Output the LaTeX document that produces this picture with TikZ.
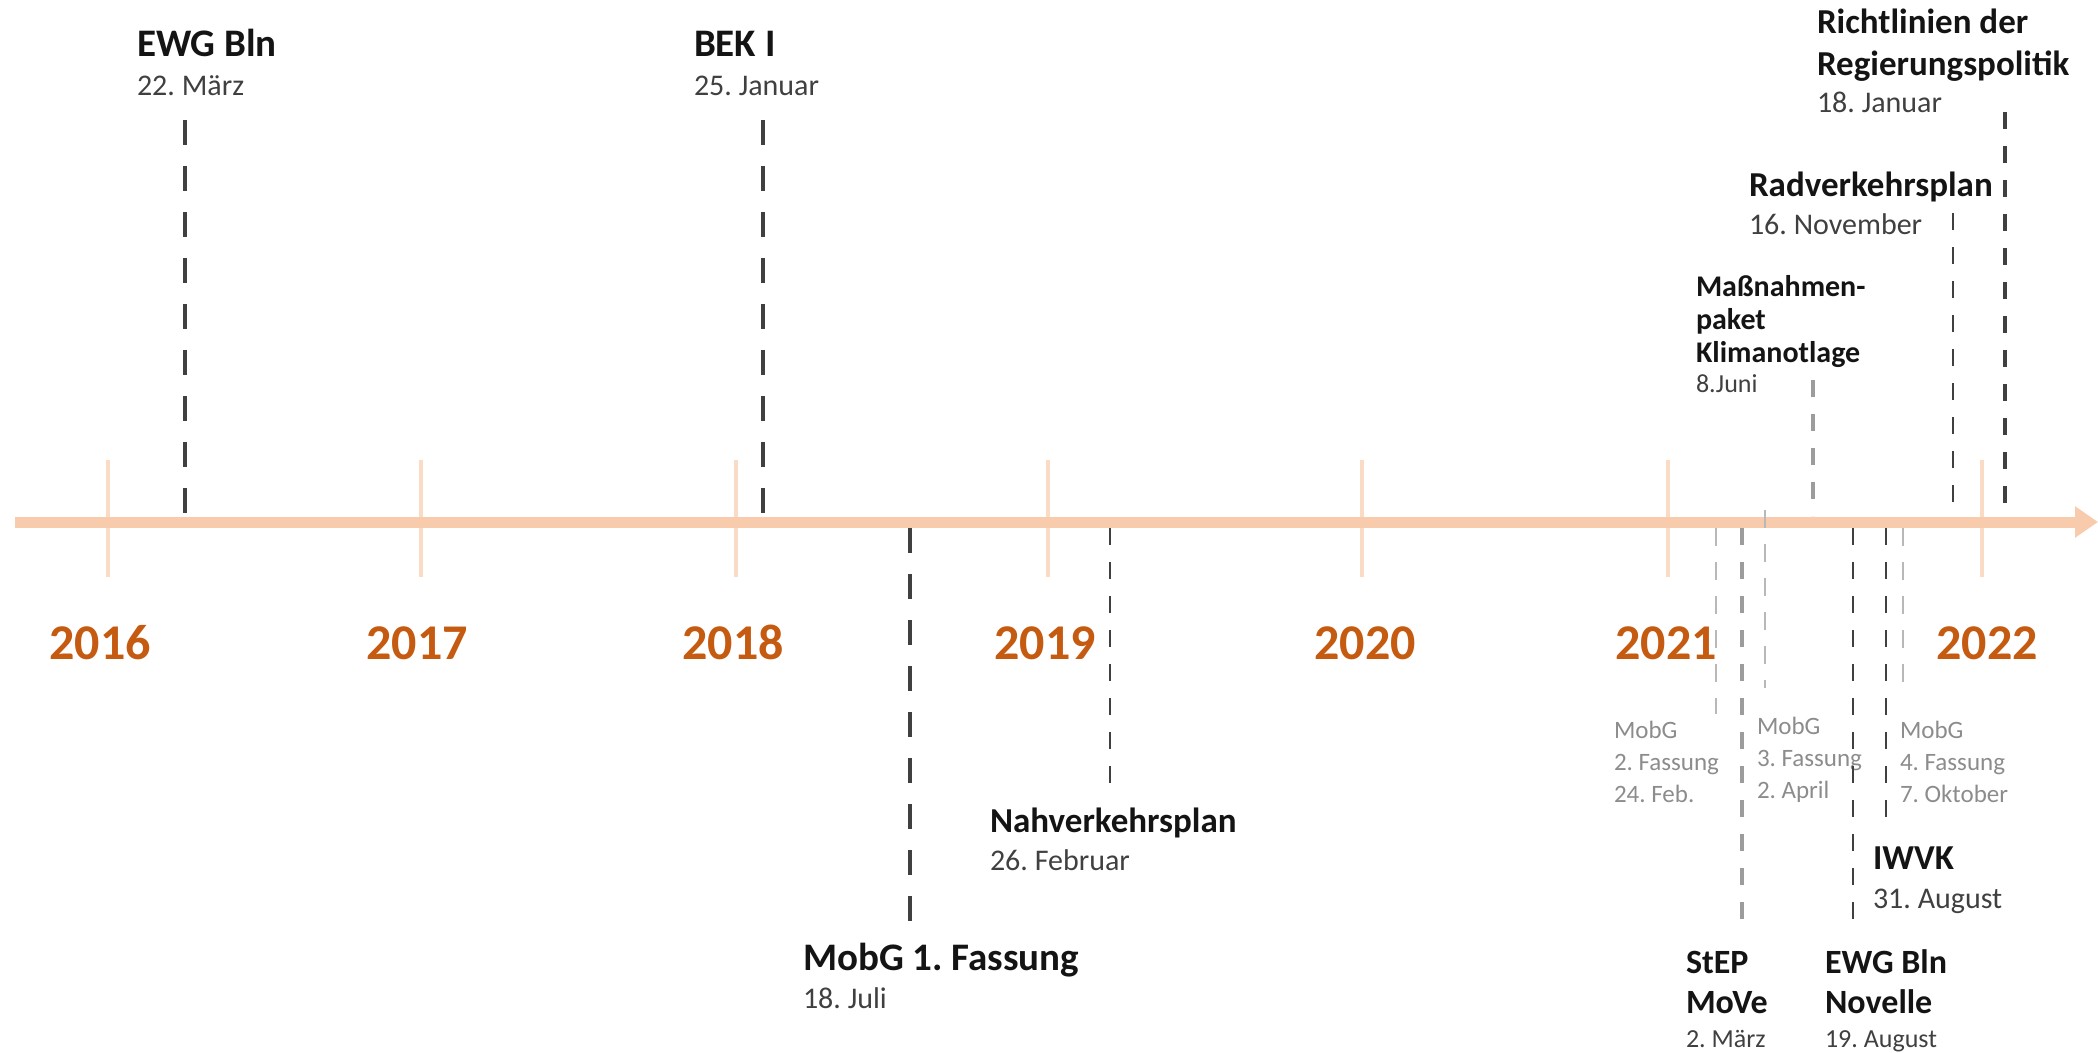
\documentclass[tikz,border=0pt]{standalone}
\usepackage{fontspec}
\setmainfont{Carlito}
\frenchspacing
\usetikzlibrary{arrows.meta,positioning}
\definecolor{axisorange}{HTML}{F8CBAD}
\definecolor{tickorange}{HTML}{FADBC6}
\definecolor{yearorange}{HTML}{C55A11}
\definecolor{darkgrey}{HTML}{404040}
\definecolor{midgrey}{HTML}{9C9C9C}
\definecolor{lightgrey}{HTML}{B8B8B8}
\definecolor{labelgrey}{HTML}{8C8C8C}

\begin{document}
\begin{tikzpicture}[x=0.5pt,y=-0.5pt,
    every node/.style={inner sep=0pt,outer sep=0pt,anchor=base west,align=left},
    bigtitle/.style={font=\bfseries\fontsize{19.5}{23}\selectfont,text=black!92},
    title/.style={font=\bfseries\fontsize{17.5}{21}\selectfont,text=black!92},
    smalltitle/.style={font=\bfseries\fontsize{15}{16.5}\selectfont,text=black!92},
    date/.style={font=\fontsize{15}{18}\selectfont,text=darkgrey},
    smalldate/.style={font=\fontsize{13}{16}\selectfont,text=darkgrey},
    draft/.style={font=\fontsize{12.5}{16}\selectfont,text=labelgrey},
    year/.style={font=\bfseries\fontsize{25}{30}\selectfont,text=yearorange,anchor=base},
    timeline/.style={draw=axisorange,line width=5.5pt,-{Triangle[length=11.5pt,width=15pt]}},
    yeartick/.style={draw=tickorange,line width=2pt},
    leadbold/.style={draw=darkgrey,line width=1.75pt,dash pattern=on 12.5pt off 10.5pt},
    leadline/.style={draw=darkgrey,line width=1.4pt,dash pattern=on 8.5pt off 8.5pt},
    leadgrey/.style={draw=midgrey,line width=2.2pt,dash pattern=on 8.5pt off 8.5pt},
    leadfaint/.style={draw=lightgrey,line width=0.8pt,dash pattern=on 9pt off 8pt}]
  \useasboundingbox (0,0) rectangle (2098,1053);

  % years and the time axis
  \foreach \yr/\tx/\lx in {2016/108/100,2017/421/417,2018/736/733,2019/1048/1045,
                           2020/1362/1365,2021/1668/1666,2022/1982/1987}{
    \draw[yeartick] (\tx,460) -- (\tx,577);
    \node[year] (y\yr) at (\lx,659) {\yr};
  }
  \coordinate (axstart) at (15,522);
  \coordinate (axend) at (2098,522);
  \draw[timeline] (axstart) -- (axend);

  % events above the axis (multi-line nodes sit on their last baseline)
  \node[bigtitle] (ewg) at (137,57) {EWG Bln};
  \node[date] (ewgdate) at (137,96) {22. März};
  \coordinate (ewgtop) at (185,120);
  \coordinate (ewgax) at (185,516);
  \draw[leadbold] (ewgtop) -- (ewgax);

  \node[bigtitle] (bek) at (694,57) {BEK I};
  \node[date] (bekdate) at (694,96) {25. Januar};
  \coordinate (bektop) at (763,120);
  \coordinate (bekax) at (763,516);
  \draw[leadbold] (bektop) -- (bekax);

  \node[smalltitle] (klima) at (1696,363) {Maßnahmen-\\paket\\Klimanotlage};
  \node[smalldate] (klimadate) at (1696,393) {8.Juni};
  \coordinate (klimatop) at (1813,380);
  \coordinate (klimaax) at (1813,516);
  \draw[leadgrey] (klimatop) -- (klimaax);

  \node[title] (rvp) at (1749,197) {Radverkehrsplan};
  \node[date] (rvpdate) at (1749,235) {16. November};
  \coordinate (rvptop) at (1953,213);
  \coordinate (rvpax) at (1953,516);
  \draw[leadline] (rvptop) -- (rvpax);

  \node[title] (rl) at (1817,76) {Richtlinien der\\Regierungspolitik};
  \node[date] (rldate) at (1817,113) {18. Januar};
  \coordinate (rltop) at (2005,112);
  \coordinate (rlax) at (2005,516);
  \draw[leadline,line width=1.75pt] (rltop) -- (rlax);

  % events below the axis
  \coordinate (mobg1ax) at (910,528);
  \coordinate (mobg1end) at (910,922);
  \draw[leadbold] (mobg1ax) -- (mobg1end);
  \node[bigtitle] (mobg1) at (803,970) {MobG 1. Fassung};
  \node[date] (mobg1date) at (803,1008) {18. Juli};

  \coordinate (nvpax) at (1110,528);
  \coordinate (nvpend) at (1110,786);
  \draw[leadline] (nvpax) -- (nvpend);
  \node[title] (nvp) at (990,832) {Nahverkehrsplan};
  \node[date] (nvpdate) at (990,870) {26. Februar};

  \coordinate (mobg2ax) at (1716,528);
  \coordinate (mobg2end) at (1716,714);
  \draw[leadfaint] (mobg2ax) -- (mobg2end);
  \node[draft] (mobg2) at (1614,802) {MobG\\2. Fassung\\24. Feb.};

  \coordinate (stepax) at (1742,528);
  \coordinate (stepend) at (1742,927);
  \draw[leadgrey] (stepax) -- (stepend);
  \node[title,font=\bfseries\fontsize{17}{20}\selectfont] (step) at (1686,1013) {StEP\\MoVe};
  \node[smalldate] (stepdate) at (1686,1047) {2. März};

  \coordinate (mobg3ax) at (1765,510);
  \coordinate (mobg3end) at (1765,688);
  \draw[leadfaint] (mobg3ax) -- (mobg3end);
  \node[draft] (mobg3) at (1757,798) {MobG\\3. Fassung\\2. April};

  \coordinate (novax) at (1853,528);
  \coordinate (novend) at (1853,927);
  \draw[leadline] (novax) -- (novend);
  \node[title,font=\bfseries\fontsize{17}{20}\selectfont] (nov) at (1825,1013) {EWG Bln\\Novelle};
  \node[smalldate] (novdate) at (1825,1047) {19. August};

  \coordinate (iwvkax) at (1886,528);
  \coordinate (iwvkend) at (1886,818);
  \draw[leadline] (iwvkax) -- (iwvkend);
  \node[title] (iwvk) at (1873,869) {IWVK};
  \node[date] (iwvkdate) at (1873,908) {31. August};

  \coordinate (mobg4ax) at (1903,528);
  \coordinate (mobg4end) at (1903,688);
  \draw[leadfaint] (mobg4ax) -- (mobg4end);
  \node[draft] (mobg4) at (1900,802) {MobG\\4. Fassung\\7. Oktober};
\end{tikzpicture}
\end{document}
